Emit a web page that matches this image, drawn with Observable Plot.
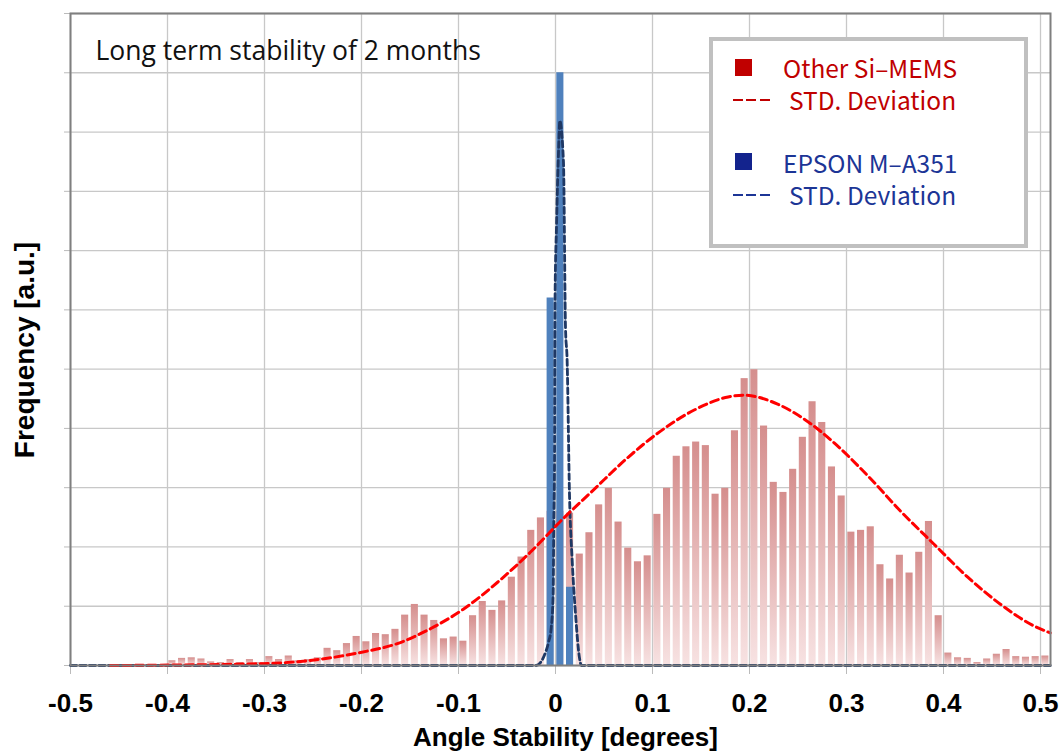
<!DOCTYPE html>
<html><head><meta charset="utf-8">
<script src="https://cdn.jsdelivr.net/npm/d3@7"></script>
<script src="https://cdn.jsdelivr.net/npm/@observablehq/plot@0.6"></script>
<style>
body{margin:0;background:#fff;}
#wrap{position:relative;width:1064px;height:754px;overflow:hidden;background:#fff;}
#wrap svg{position:absolute;left:0;top:0;}
.lg{position:absolute;font-family:"Noto Sans CJK JP","Noto Sans",sans-serif;font-size:24.5px;line-height:30px;white-space:nowrap;}
.sq{position:absolute;width:17px;height:17px;}
.dash{position:absolute;width:38px;height:2px;}
#lbox{position:absolute;left:709px;top:37px;width:319px;height:211px;border:4px solid #c0c0c0;box-sizing:border-box;background:#fff;}
#ytitle{position:absolute;left:25px;top:350px;transform:translate(-50%,-50%) rotate(-90deg);font-family:"Liberation Sans",Arial,sans-serif;font-weight:bold;font-size:28px;white-space:nowrap;color:#000;}
</style>
</head><body>
<div id="wrap"></div>
<script>
// ---- data ----
const binStart = d3.range(-50, 51).map(k => k / 100); // histogram bins of 0.01 degrees
const otherMems = [
  0,0,0,0,0,0,0,0,0,0,
  0.08,0.12,0.13,0.11,0.06,0.05,0.10,0.05,0.10,0.05,
  0.15,0.10,0.16,0.08,0.10,0.13,0.29,0.25,0.37,0.49,
  0.40,0.54,0.52,0.61,0.85,1.03,0.85,0.76,0.45,0.48,
  0.41,0.84,1.08,0.93,1.09,1.49,1.83,2.28,2.49,2.60,
  2.60,2.57,1.88,2.24,2.71,2.99,2.42,1.98,1.75,1.85,
  2.55,2.99,3.53,3.69,3.77,3.71,2.89,2.99,3.96,4.84,
  4.99,4.04,3.09,2.92,3.31,3.85,4.45,4.10,3.35,2.86,
  2.25,2.28,2.34,1.70,1.46,1.86,1.56,1.91,2.43,0.84,
  0.21,0.13,0.12,0.05,0.11,0.19,0.27,0.15,0.14,0.15,
  0.16
];
const epsonBins = [-0.01, 0.00, 0.01];
const epsonValues = [6.2, 10.0, 1.32];

const otherStdX = [-0.459,-0.304,-0.201,-0.163,-0.129,-0.095,-0.060,-0.026,0.008,0.039,0.074,0.108,0.143,0.178,0.194,0.229,0.263,0.287,0.322,0.356,0.390,0.425,0.459,0.493,0.510];
const otherStdY = [0.0,0.03,0.22,0.37,0.62,0.95,1.40,1.91,2.48,2.96,3.50,3.95,4.31,4.53,4.56,4.41,4.08,3.76,3.20,2.60,2.05,1.49,1.03,0.67,0.55];

const epsonStdX = [-0.5,-0.02,-0.0155,-0.0103,-0.0072,-0.0044,-0.0024,-0.0018,-0.001,-0.0007,-0.0004,0.001,0.0034,0.0044,0.0082,0.0103,0.012,0.0144,0.0172,0.0206,0.0247,0.0268,0.51];
const epsonStdY = [0,0,0.05,0.22,0.39,0.64,1.21,2.33,3.46,5.1,6.27,7.39,8.8,9.19,8.5,5.7,5.14,2.9,1.77,0.88,0.13,0.0,0];

const xTicks = [-0.5,-0.4,-0.3,-0.2,-0.1,0,0.1,0.2,0.3,0.4,0.5];
const xTickLabels = ["-0.5","-0.4","-0.3","-0.2","-0.1","0","0.1","0.2","0.3","0.4","0.5"];
const yTicks = [0,1,2,3,4,5,6,7,8,9,10,11];

const titleText = "Long term stability of 2 months";
const xTitle = "Angle Stability [degrees]";
const yTitle = "Frequency [a.u.]";

// ---- tables ----
const redBars = binStart.map((b, i) => ({x1: b, x2: b + 0.01, y: otherMems[i]}));
const blueBars = epsonBins.map((b, i) => ({x1: b, x2: b + 0.01, y: epsonValues[i]}));
const redCurve = otherStdX.map((x, i) => ({x, y: otherStdY[i]}));
const blueCurve = epsonStdX.map((x, i) => ({x, y: epsonStdY[i]}));

const boldFont = '"Liberation Sans",Arial,sans-serif';

const chart = Plot.plot({
  width: 1064, height: 754,
  marginLeft: 70, marginRight: 14, marginTop: 13, marginBottom: 89,
  x: {domain: [-0.5, 0.5103]},
  y: {domain: [0, 11]},
  marks: [
    Plot.gridY(yTicks, {stroke: "#c8c8c8", strokeOpacity: 1, strokeWidth: 1.3}),
    Plot.gridX(xTicks, {stroke: "#c8c8c8", strokeOpacity: 1, strokeWidth: 1.3}),
    Plot.axisY({ticks: yTicks, tickFormat: () => "", tickSize: 6, stroke: "#bbbbbb", label: null}),
    Plot.axisX({ticks: xTicks, tickFormat: (d, i) => xTickLabels[i], tickSize: 9, tickPadding: 19,
      stroke: "#bbbbbb", fontSize: 26, fontWeight: "bold", fontFamily: boldFont, fill: "#000", label: null}),
    Plot.rectY(redBars, {x1: "x1", x2: "x2", y: "y", fill: "url(#redGrad)", insetLeft: 1.3, insetRight: 1.3}),
    Plot.rectY(blueBars, {x1: "x1", x2: "x2", y: "y", fill: "#4f81bd", insetLeft: 1.3, insetRight: 1.3}),
    Plot.line(blueCurve, {x: "x", y: "y", stroke: "#1f3864", strokeWidth: 2.8, strokeDasharray: "6,3.5", curve: "monotone-x"}),
    Plot.line(redCurve, {x: "x", y: "y", stroke: "#ff0000", strokeWidth: 3, strokeDasharray: "8,4.5", curve: "monotone-x"}),
    Plot.frame({stroke: "#7f7f7f", strokeWidth: 2}),
    Plot.text([titleText], {frameAnchor: "top-left", dx: 25, dy: 28, lineAnchor: "top", textAnchor: "start",
      fontSize: 26.5, fontFamily: '"Open Sans",sans-serif', fill: "#111"}),
    Plot.text([xTitle], {frameAnchor: "bottom", dx: 5, dy: 62, lineAnchor: "top", fontSize: 26, fontWeight: "bold", fontFamily: boldFont, fill: "#000"})
  ]
});

const defs = d3.select(chart).insert("defs", ":first-child");
const g = defs.append("linearGradient").attr("id", "redGrad").attr("x1", 0).attr("y1", 0).attr("x2", 0).attr("y2", 1);
g.append("stop").attr("offset", 0).attr("stop-color", "#d58e8d");
g.append("stop").attr("offset", 1).attr("stop-color", "#f7e2e2");

const wrap = document.getElementById("wrap");
wrap.appendChild(chart);

// y title and legend (HTML overlay)
const yt = document.createElement("div");
yt.id = "ytitle";
yt.textContent = yTitle;
wrap.appendChild(yt);

const legendHTML = `
<div id="lbox"></div>
<div class="sq" style="left:735px;top:59px;background:#c00000"></div>
<div class="lg" style="left:783px;top:53px;color:#c00000">Other Si–MEMS</div>
<div class="dash" style="left:733px;top:99px;background:repeating-linear-gradient(to right,#c00000 0 10px,transparent 10px 13.5px)"></div>
<div class="lg" style="left:789px;top:85px;color:#c00000">STD. Deviation</div>
<div class="sq" style="left:735px;top:153px;background:#13238d"></div>
<div class="lg" style="left:783px;top:148px;color:#1c3596">EPSON M–A351</div>
<div class="dash" style="left:733px;top:194px;background:repeating-linear-gradient(to right,#1c3596 0 10px,transparent 10px 13.5px)"></div>
<div class="lg" style="left:789px;top:180px;color:#1c3596">STD. Deviation</div>`;
wrap.insertAdjacentHTML("beforeend", legendHTML);
</script>
</body></html>
